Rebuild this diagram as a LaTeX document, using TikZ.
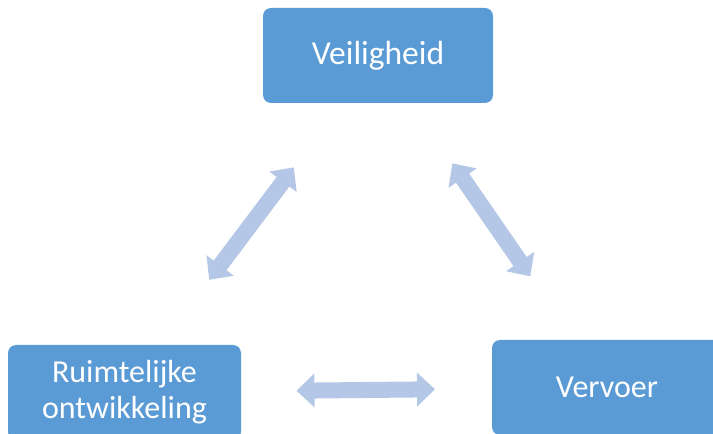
\documentclass[tikz,border=0pt]{standalone}
\usepackage{fontspec}
\setmainfont{Carlito}
\usepackage{xcolor}
\usepackage{tikz}
\usetikzlibrary{arrows.meta}
\definecolor{blokblauw}{RGB}{91,155,213}
\definecolor{pijlblauw}{RGB}{180,199,231}

\begin{document}
\begin{tikzpicture}[x=1pt,y=1pt,
    blok/.style={fill=blokblauw, rounded corners=8pt, text=white, align=center,
        minimum height=95pt, inner sep=0pt, font=\fontsize{32}{36}\selectfont},
    pijl/.style={draw=pijlblauw, line width=16pt,
        {Triangle[width=33pt,length=18pt]}-{Triangle[width=33pt,length=18pt]}}]
    \useasboundingbox (0,0) rectangle (713,434);
    \clip (0,0) rectangle (713,434);
    \node[blok, minimum width=230pt, font=\fontsize{33.5}{36}\selectfont] (veilig) at (378,378.5) {Veiligheid};
    \node[blok, minimum width=233pt, yshift=-2pt] (ruimte) at (124.5,43.5) {Ruimtelijke\\ontwikkeling};
    \node[blok, minimum width=230pt] (vervoer) at (607,46.5) {Vervoer};
    \draw[pijl, shorten <=140pt, shorten >=141pt] (veilig.center) -- (ruimte.center);
    \draw[pijl, shorten <=131pt, shorten >=135pt] (veilig.center) -- (vervoer.center);
    \draw[pijl, shorten <=172pt, shorten >=172pt] (ruimte.center) -- (vervoer.center);
\end{tikzpicture}
\end{document}
